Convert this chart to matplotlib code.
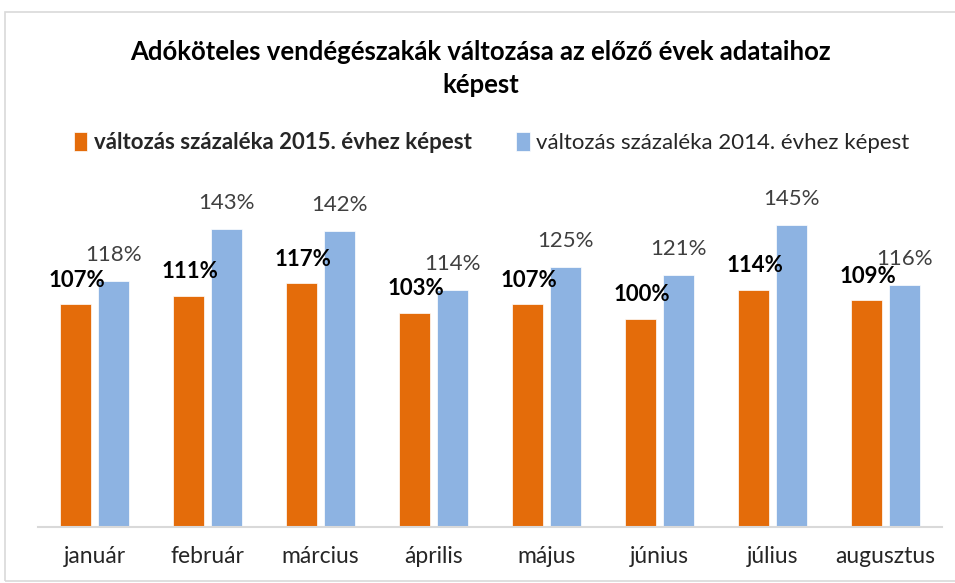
import matplotlib.pyplot as plt
import numpy as np
from matplotlib.patches import Rectangle

honapok = ["január", "február", "március", "április", "május", "június", "július", "augusztus"]
valt_2015 = [107, 111, 117, 103, 107, 100, 114, 109]
valt_2014 = [118, 143, 142, 114, 125, 121, 145, 116]
cim = "Adóköteles vendégészakák változása az előző évek adataihoz\nképest"
nev_2015 = "változás százaléka 2015. évhez képest"
nev_2014 = "változás százaléka 2014. évhez képest"

narancs = "#E46C0A"
kek = "#8DB3E2"

plt.rcParams['font.family'] = ['Lato', 'DejaVu Sans']

fig = plt.figure(figsize=(9.55, 5.83), dpi=100)
ax = fig.add_axes([0.0398, 0.0961, 0.9466, 0.5643])

# keret a diagram körül
fig.patches.append(Rectangle((5 / 955, 0.003), 0.999, 1 - 12 / 583 - 0.003, transform=fig.transFigure,
                             fill=False, edgecolor="#d9d9d9", linewidth=1.2))

x = np.arange(len(honapok))
szel = 0.274
elt = 0.166
b1 = ax.bar(x - elt, valt_2015, szel, color=narancs, edgecolor="white", linewidth=0.5, label=nev_2015)
b2 = ax.bar(x + elt, valt_2014, szel, color=kek, edgecolor="white", linewidth=0.5, label=nev_2014)

for xi, v in zip(x, valt_2015):
    ax.annotate(f"{v}%", (xi - elt, v), xytext=(1, 24), textcoords="offset pixels",
                ha="center", va="center", fontsize=16, fontweight="bold", color="black")
for xi, v in zip(x, valt_2014):
    ax.annotate(f"{v}%", (xi + elt, v), xytext=(0, 26), textcoords="offset pixels",
                ha="center", va="center", fontsize=16, color="#404040")

ax.set_xlim(-0.5, len(honapok) - 0.5)
ax.set_ylim(0, 158)
ax.set_yticks([])
ax.set_xticks(x)
ax.set_xticklabels(honapok, fontsize=16.5, color="#262626")
ax.tick_params(axis="x", length=0, pad=14)
for s in ["top", "right", "left"]:
    ax.spines[s].set_visible(False)
ax.spines["bottom"].set_color("#d9d9d9")
ax.spines["bottom"].set_linewidth(1.5)

fig.text(0.503, 0.883, cim, ha="center", va="center", fontsize=18.5, fontweight="bold",
         color="black", linespacing=1.45)

leg = fig.legend(handles=[b1, b2], loc="center", bbox_to_anchor=(0.515, 0.755), ncol=2, frameon=False,
                 fontsize=16, handlelength=0.6, handleheight=0.9, handletextpad=0.3, columnspacing=2.0)
leg.get_texts()[0].set_fontweight("bold")
for t in leg.get_texts():
    t.set_color("#262626")

fig.savefig("out.png", dpi=100)
